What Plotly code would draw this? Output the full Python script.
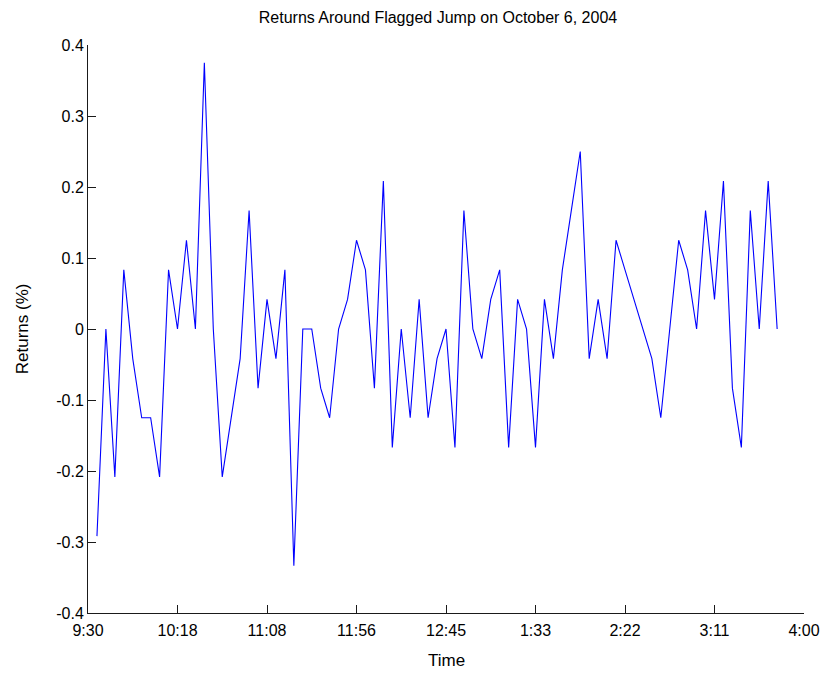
import plotly.graph_objects as go

# sample index (5-min bars across the session)
sample_idx = list(range(1, 78))

# returns in percent
returns_pct = [
    -0.2917, 0.0, -0.2083, 0.0833, -0.0417, -0.125, -0.125, -0.2083, 0.0833, 0.0,
    0.125, 0.0, 0.375, 0.0, -0.2083, -0.125, -0.0417, 0.1667, -0.0833, 0.0417,
    -0.0417, 0.0833, -0.3333, 0.0, 0.0, -0.0833, -0.125, 0.0, 0.0417, 0.125,
    0.0833, -0.0833, 0.2083, -0.1667, 0.0, -0.125, 0.0417, -0.125, -0.0417, 0.0,
    -0.1667, 0.1667, 0.0, -0.0417, 0.0417, 0.0833, -0.1667, 0.0417, 0.0, -0.1667,
    0.0417, -0.0417, 0.0833, 0.1667, 0.25, -0.0417, 0.0417, -0.0417, 0.125, 0.0833,
    0.0417, 0.0, -0.0417, -0.125, 0.0, 0.125, 0.0833, 0.0, 0.1667, 0.0417,
    0.2083, -0.0833, -0.1667, 0.1667, 0.0, 0.2083, 0.0,
]

x_tick_vals = [0, 10, 20, 30, 40, 50, 60, 70, 80]
x_tick_text = ["9:30", "10:18", "11:08", "11:56", "12:45", "1:33", "2:22", "3:11", "4:00"]

y_tick_vals = [0.4, 0.3, 0.2, 0.1, 0.0, -0.1, -0.2, -0.3, -0.4]
y_tick_text = ["0.4", "0.3", "0.2", "0.1", "0", "-0.1", "-0.2", "-0.3", "-0.4"]

title_text = "Returns Around Flagged Jump on October 6, 2004"
x_label = "Time"
y_label = "Returns (%)"

FONT = "Liberation Sans, Arial, Helvetica, sans-serif"
W, H = 832, 673
L, R, T, B = 88, 25, 45, 60

fig = go.Figure()
fig.add_trace(go.Scatter(
    x=sample_idx, y=returns_pct, mode="lines",
    line=dict(color="#0000ff", width=1.1),
    showlegend=False, hoverinfo="skip",
))

axis_common = dict(
    showgrid=False, zeroline=False, showline=True, linecolor="#1a1a1a", linewidth=1,
    ticks="inside", ticklen=8, tickwidth=1, tickcolor="#1a1a1a", mirror=False,
    tickfont=dict(family=FONT, size=16, color="#000000"),
)

fig.update_layout(
    width=W, height=H,
    margin=dict(l=L, r=R, t=T, b=B, pad=0),
    paper_bgcolor="white", plot_bgcolor="white",
    title=dict(text=title_text, x=438 / W, xref="container", xanchor="center",
               y=1 - 17 / H, yref="container", yanchor="middle",
               font=dict(family=FONT, size=16, color="#000000")),
    xaxis=dict(range=[0, 80], tickmode="array", tickvals=x_tick_vals, ticktext=x_tick_text,
               ticklabelstandoff=3, **axis_common),
    yaxis=dict(range=[-0.4, 0.4], tickmode="array", tickvals=y_tick_vals, ticktext=y_tick_text,
               **axis_common),
    annotations=[
        dict(text=x_label, x=0.5, xref="paper", y=-(661 - 613) / (H - T - B), yref="paper",
             xanchor="center", yanchor="middle", showarrow=False,
             font=dict(family=FONT, size=17, color="#000000")),
        dict(text=y_label, x=(22 - L) / (W - L - R), xref="paper", xanchor="center",
             y=0.5, yref="paper", yanchor="middle", textangle=-90, showarrow=False,
             font=dict(family=FONT, size=17, color="#000000")),
    ],
)

fig.write_html("out.html")
